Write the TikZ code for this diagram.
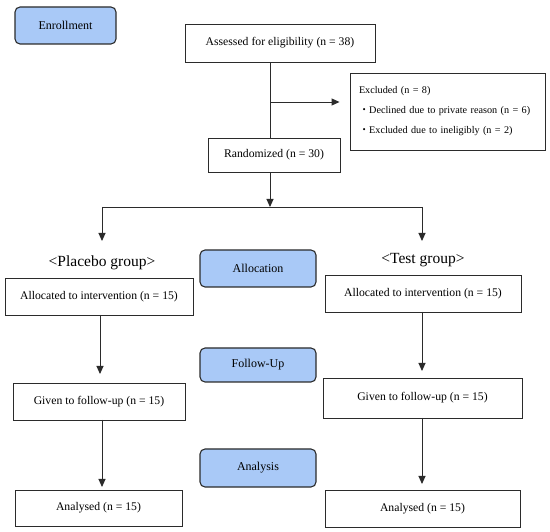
\documentclass[tikz,border=0pt]{standalone}
\usepackage{fontspec}
\setmainfont{Liberation Serif}
\newfontfamily\cjk{Noto Sans CJK JP}
\usepackage{tikz}
\usetikzlibrary{positioning,arrows.meta}
\definecolor{cStage}{HTML}{A9C9F7}
\definecolor{cInk}{HTML}{2B2B2B}
\newcommand{\dotitem}{{\cjk ・}}
\tikzset{
  stage/.style={draw=cInk, line width=1.1pt, rounded corners=5pt, fill=cStage,
                minimum width=116pt, minimum height=37pt, inner sep=0pt, font=\fontsize{12}{14}\selectfont},
  box/.style={draw=cInk, line width=0.9pt, fill=white, inner sep=0pt,
              minimum height=37pt, font=\fontsize{11.7}{14}\selectfont},
  grp/.style={font=\fontsize{15.5}{18}\selectfont, inner sep=0pt},
  ar/.style={-{Triangle[length=8pt,width=7pt]}, cInk, line width=0.9pt},
  ln/.style={cInk, line width=0.9pt}
}
\begin{document}
\begin{tikzpicture}[x=1pt,y=-1pt]
\useasboundingbox (0,0) rectangle (550,532);
% stage labels
\node[stage, minimum width=101pt] (enrol) at (65.5,25.5) {Enrollment};
\node[stage] (alloc) at (258,268.5) {Allocation};
\node[stage, minimum height=34pt] (follow) at (258,365) {Follow-Up};
\node[stage, minimum height=38pt] (anal) at (258,468) {Analysis};
% enrollment
\node[box, minimum width=190pt, minimum height=38pt] (assess) at (280,43) {Assessed for eligibility (n = 38)};
\node[box, minimum width=195pt, minimum height=77pt, align=left, text width=177pt,
      font=\fontsize{10.2}{20}\selectfont] (excl) at (447.5,111.5)
  {Excluded (n = 8)\\\dotitem Declined due to private reason (n = 6)\\\dotitem Excluded due to ineligibly (n = 2)};
\node[box, minimum width=132pt, minimum height=34pt] (rand) at (274,155) {Randomized (n = 30)};
\coordinate (trunk) at (270,102);
\coordinate (split) at (270,207);
% groups
\node[grp] (plac) at (102,263) {<Placebo group>};
\node[grp] (test) at (423,260) {<Test group>};
\node[box, minimum width=188pt] (palloc) at (99,296.5) {Allocated to intervention (n = 15)};
\node[box, minimum width=196pt] (talloc) at (423,293.5) {Allocated to intervention (n = 15)};
\node[box, minimum width=172pt] (pgiven) at (99,401.5) {Given to follow-up (n = 15)};
\node[box, minimum width=199pt, minimum height=40pt] (tgiven) at (422.5,398) {Given to follow-up (n = 15)};
\node[box, minimum width=167pt, minimum height=36pt] (pan) at (98.5,508) {Analysed (n = 15)};
\node[box, minimum width=195pt] (tan) at (422.5,508.5) {Analysed (n = 15)};
\coordinate (lsplit) at (102,207);
\coordinate (rsplit) at (422,207);
% connectors
\draw[ln](trunk |- assess.south)--(trunk |- rand.north);
\draw[ar](trunk)--(trunk -| excl.west) [shorten >=10pt];
\draw[ar](split |- rand.south)--(split);
\draw[ln](lsplit)--(rsplit);
\draw[ar](lsplit)--(102,241);
\draw[ar](rsplit)--(422,241);
\draw[ar](100,315)--(100,374);
\draw[ar](422,312)--(422,371);
\draw[ar](102,420)--(102,487);
\draw[ar](422,418)--(422,484);
\end{tikzpicture}
\end{document}
